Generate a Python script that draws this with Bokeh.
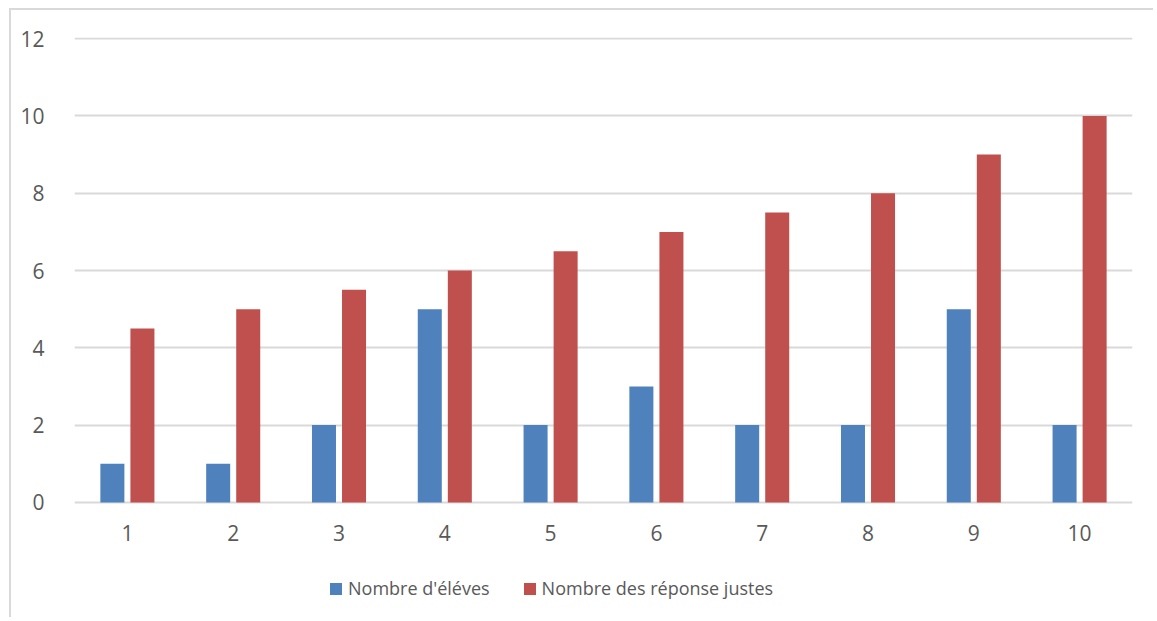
from bokeh.plotting import figure
from bokeh.models import FixedTicker, Legend, LegendItem, ColumnDataSource
from bokeh.core.properties import value
from bokeh.transform import dodge
from bokeh.embed import file_html
from bokeh.resources import INLINE

categories = [1, 2, 3, 4, 5, 6, 7, 8, 9, 10]
category_labels = ["1", "2", "3", "4", "5", "6", "7", "8", "9", "10"]
eleves = [1, 1, 2, 5, 2, 3, 2, 2, 5, 2]
reponses = [4.5, 5, 5.5, 6, 6.5, 7, 7.5, 8, 9, 10]
y_ticks = [0, 2, 4, 6, 8, 10, 12]
series_names = ["Nombre d'éléves", "Nombre des réponse justes"]

FONT = "Open Sans"
TXT = "#595959"

src = ColumnDataSource(dict(x=categories, a=eleves, b=reponses, lab=category_labels))

p = figure(width=1144, height=609, output_backend="svg", toolbar_location=None,
           x_range=(0.5, 10.5), y_range=(-3.03, 12.03), x_axis_type=None,
           min_border_left=63, min_border_top=27, min_border_right=23, min_border_bottom=0)
p.styles = {"border-left": "2px solid #d9d9d9", "border-top": "2px solid #d9d9d9",
            "margin-left": "9px", "margin-top": "8px"}
p.outline_line_color = None

r1 = p.vbar(x=dodge("x", -0.142), top="a", width=0.227, source=src,
            fill_color="#4F81BD", line_color=None)
r2 = p.vbar(x=dodge("x", 0.142), top="b", width=0.227, source=src,
            fill_color="#C0504D", line_color=None)

# category labels under the baseline
p.text(x="x", y=-0.78, text="lab", source=src, text_font=value(FONT),
       text_font_size="21px", text_color=TXT, text_align="center", text_baseline="middle")

p.yaxis.ticker = FixedTicker(ticks=y_ticks)
ax = p.yaxis[0]
ax.axis_line_color = None
ax.major_tick_line_color = None
ax.minor_tick_line_color = None
ax.major_label_text_font = FONT
ax.major_label_text_font_size = "21px"
ax.major_label_text_color = TXT
ax.major_label_standoff = 24
p.ygrid.grid_line_color = "#d9d9d9"
p.ygrid.grid_line_width = 2

legend = Legend(items=[LegendItem(label=series_names[0], renderers=[r1]),
                       LegendItem(label=series_names[1], renderers=[r2])],
                orientation="horizontal", location=(254, 19),
                glyph_width=15, glyph_height=15, label_standoff=5, spacing=32,
                padding=0, margin=0, border_line_color=None, background_fill_alpha=0,
                label_text_font=FONT, label_text_font_size="18px", label_text_color=TXT)
p.add_layout(legend, "center")

open("out.html", "w").write(file_html(p, INLINE))
